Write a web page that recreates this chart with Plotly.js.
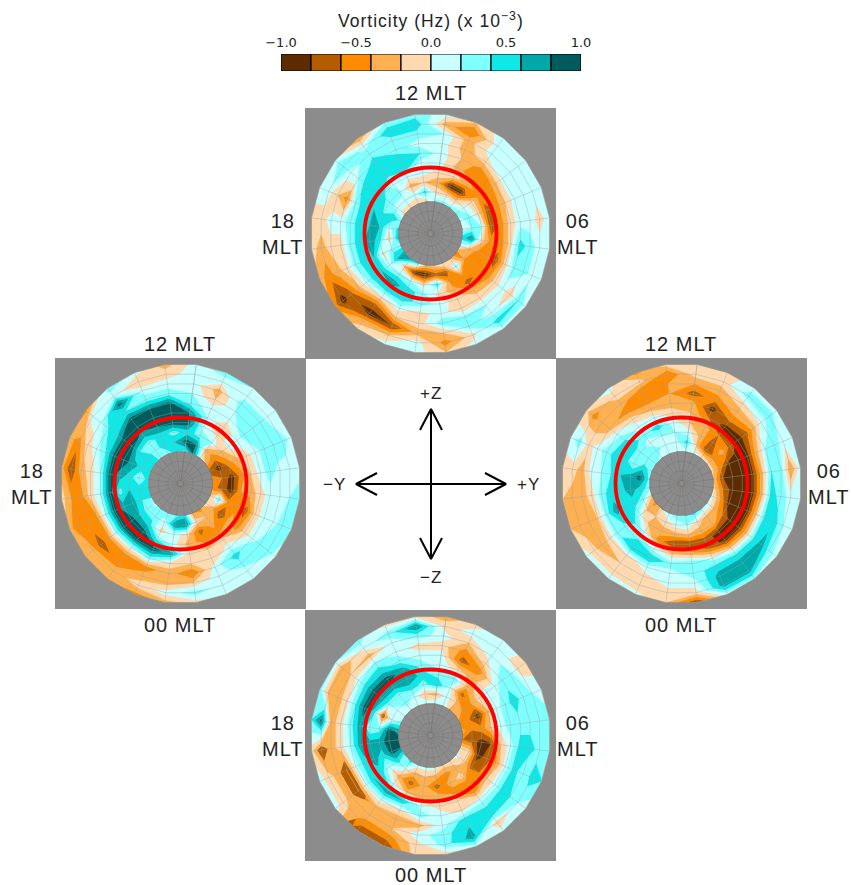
<!DOCTYPE html>
<html><head><meta charset="utf-8">
<script src="https://cdn.plot.ly/plotly-3.0.1.min.js"></script>
<style>html,body{margin:0;padding:0;background:#fff}#g{width:851px;height:885px}
.annotation-text{letter-spacing:1px}</style>
</head><body><div id="g"></div>
<script>
const bandColors=['#5c2c00','#b35c00','#ff8c00','#ffb050','#ffd9b0','#c8ffff','#80ffff','#10e8e8','#00a8a8','#005c5c'];
const bandCentres=[-0.9,-0.7,-0.5,-0.3,-0.1,0.1,0.3,0.5,0.7,0.9];
const cbTicks=[-1,-0.5,0,0.5,1];
const cbLabels=['\u22121.0','\u22120.5','0.0','0.5','1.0'];
const rings=[32,41.8,51.6,61.3,71.1,80.9,90.7,100.4,110.2,120];
const innerRings=[3,12.7,22.3,32];
const spokeAngles=[7.5,22.5,37.5,52.5,67.5,82.5,97.5,112.5,127.5,142.5,157.5,172.5,187.5,202.5,217.5,232.5,247.5,262.5,277.5,292.5,307.5,322.5,337.5,352.5];
const redCircleRadius=66;

const topPanel=[
[.3,-.1,-.3,-.1,.1,.1,.1,.2,-.3,.1],
[.3,-.1,-.95,-.1,-.3,-.2,-.3,-.3,-.6,-.2],
[.3,-.2,-.9,-.3,-.6,-.5,-.1,.1,.1,.1],
[.3,.1,-.1,-.5,-.6,-.3,.1,.1,.1,.1],
[.1,.3,-.1,-.7,-.5,-.2,.1,.1,.1,.1],
[.1,.2,.2,-.8,-.5,-.1,.1,.1,-.1,.1],
[.5,.8,-.1,-.5,-.5,-.1,.5,.3,.1,.1],
[.1,-.3,-.5,-.5,-.7,-.1,.3,.3,.1,.1],
[-.6,-.4,-.5,-.5,-.5,-.1,.1,-.2,.4,.1],
[-.2,.3,-.4,-.7,-.3,-.1,.2,.1,.5,.1],
[.1,-.7,-.5,-.3,-.1,-.2,.3,.3,-.1,.1],
[-.1,-.7,.5,-.1,.1,.1,.3,-.2,-.5,-.2],
[-.2,-.95,-.1,.3,.3,-.1,-.1,-.3,.1,.1],
[.5,-.9,.2,.5,.5,.1,-.2,-.8,-.2,.1],
[.7,-.3,.3,.7,.5,-.1,-.7,-.9,-.3,-.1],
[.7,.6,.1,.6,.5,.1,-.3,-.7,-.9,-.5],
[.3,.3,-.1,.6,.5,.3,-.1,-.3,-.5,-.3],
[.7,-.2,.5,.7,.5,.3,-.1,-.1,-.3,-.1],
[.5,.1,.6,.6,.5,.3,.1,.1,-.1,-.1],
[.3,.6,.4,.6,.5,.3,-.5,-.2,.1,.1],
[-.1,.1,.3,.5,.6,.5,.2,.1,.4,.1],
[-.1,.1,.3,.1,.4,.5,.5,.3,.1,-.4],
[-.2,.1,-.3,.1,.6,.5,.3,.3,.55,.2],
[-.2,.5,-.2,.1,.1,.4,.1,.3,.55,.3]];

const leftPanel=[
[.3,.9,.5,.9,.8,.3,.2,.1,.1,.1],
[.8,.8,.3,.1,.2,.1,-.2,-.3,.1,.3],
[.1,-.3,.2,-.1,-.2,.1,.2,.3,.1,.2],
[-.3,-.5,-.3,.1,.1,.3,.3,.3,.1,.1],
[-.7,-.9,-.5,-.3,-.1,.1,.3,.4,.3,.1],
[-.5,-.6,-.9,-.5,-.2,.1,.3,.1,.1,.1],
[-.5,-.7,-.9,-.4,-.3,-.1,.1,.1,.2,.3],
[-.2,.4,-.5,-.5,-.7,-.1,.1,.1,.3,.3],
[.1,-.4,-.8,-.3,-.5,-.1,.1,.3,.3,.1],
[-.5,-.2,-.3,-.5,-.1,.1,.5,.3,.1,.1],
[-.4,-.1,-.7,-.5,-.2,-.2,.1,.1,.1,.1],
[.5,.8,-.1,-.3,-.1,-.2,-.6,-.2,.3,-.1],
[.3,.8,.1,.1,.7,-.1,-.3,-.3,.1,-.3],
[.3,.1,-.1,.4,.9,.3,-.5,-.3,-.1,-.5],
[.3,.3,.5,.9,.9,.1,-.5,-.5,-.3,-.3],
[.1,.3,.6,.9,.9,.2,-.5,-.7,-.3,-.3],
[.5,.4,.7,.7,.9,.2,-.5,-.5,-.6,-.3],
[.5,.5,.6,.3,.9,.2,-.1,-.5,-.4,-.1],
[.5,.2,.5,.7,.9,.2,-.1,-.3,-.8,-.3],
[.5,.5,.7,.9,.9,.4,.1,-.1,-.5,-.3],
[.6,.5,.4,.9,.9,.5,.4,.1,.1,-.5],
[.3,.3,.3,.7,.9,.9,.4,.9,.1,.3],
[.3,.5,.5,.8,.9,.8,.3,.1,-.2,.1],
[.5,.6,.3,.9,.9,.85,.3,.1,-.1,-.3]];

const rightPanel=[
[.1,.5,.1,-.2,-.2,-.3,-.7,-.4,-.1,-.1],
[.1,-.3,-.3,-.3,-.6,-.9,-.5,-.3,-.1,-.1],
[.1,-.8,-.7,-.6,-.9,-.5,-.3,-.1,.3,.1],
[-.1,-.5,-.3,-.7,-.9,-.7,-.3,.1,.3,.1],
[-.1,-.5,-.9,-.9,-.9,-.3,.2,.3,.1,.1],
[-.2,-.8,-.9,-.9,-.9,-.3,.4,.3,-.4,.1],
[-.1,-.6,-.9,-.9,-.9,-.3,.5,.3,.1,.2],
[.1,-.4,-.9,-.9,-.9,-.2,.5,.5,.2,.1],
[.2,-.3,-.6,-.9,-.9,-.3,.4,.7,.3,.1],
[.3,-.3,-.3,-.9,-.9,-.2,.5,.7,.7,.2],
[.5,-.1,-.3,-.7,-.6,.1,.5,.7,.7,.1],
[.4,.2,-.2,-.8,-.3,.4,.3,.1,-.1,-.8],
[.3,.1,-.3,-.8,-.2,.3,.1,.1,-.1,-.2],
[.2,-.1,-.3,-.5,.1,.6,.1,-.1,-.2,.1],
[-.1,-.2,-.3,.1,.4,.6,-.1,-.2,-.1,.1],
[-.5,-.3,.1,.5,.3,.3,-.1,-.4,-.1,.1],
[-.2,.3,.5,.5,.7,.3,-.2,-.3,-.3,-.2],
[.3,.5,.7,.5,.5,.3,-.1,-.3,-.3,-.2],
[.3,.9,.7,.6,.4,.2,.1,-.3,-.1,-.1],
[.3,.5,.2,.5,.5,.3,.1,-.1,.3,.1],
[.3,.2,.3,.5,.4,.1,-.3,-.3,-.5,-.1],
[.1,.3,.1,.3,.1,-.1,-.5,-.3,-.1,.1],
[.1,.1,.2,.5,.1,-.3,-.5,-.6,-.1,-.5],
[.1,.1,.2,.1,-.1,-.3,-.4,-.4,-.6,-.1]];

const bottomPanel=[
[.2,-.3,.6,.3,.1,.1,-.1,.1,-.1,-.3],
[.2,.1,.1,.4,-.1,-.7,-.5,-.2,.1,-.1],
[-.3,-.2,-.7,-.3,-.3,-.5,-.1,.1,.1,.2],
[-.2,-.5,-.4,-.1,.1,.1,.3,.3,-.1,-.1],
[-.5,-.6,-.9,-.3,.1,.3,.5,.3,.2,.1],
[-.3,-.6,-.5,-.2,.1,.3,.3,.3,.3,.3],
[-.6,-.7,-.9,-.8,-.2,.1,.5,.5,.3,.3],
[-.1,-.1,-.9,-.7,-.4,.1,.5,.2,.5,.4],
[.1,-.1,-.7,-.6,-.2,.1,.5,.4,.2,.1],
[-.1,-.3,-.1,-.6,-.5,.1,.4,.5,-.2,.1],
[-.1,-.5,-.3,-.5,-.1,-.1,.5,.6,.7,.1],
[.1,-.3,-.7,-.3,-.1,.1,.1,.3,.3,-.1],
[.1,-.2,-.3,-.4,.1,.3,-.3,.1,-.1,-.1],
[.1,-.3,-.7,-.3,.6,-.1,-.3,-.2,-.5,-.8],
[.5,.1,-.3,.1,.7,.1,-.3,-.3,-.5,-.8],
[.3,.5,.1,.5,.6,.1,-.62,-.3,-.1,.1],
[.8,.9,.5,.7,.5,.1,-.62,-.3,-.1,.1],
[.9,.9,.7,.7,.7,.2,-.1,-.3,-.6,-.1],
[.7,.9,.3,.2,.7,.3,-.1,-.3,.9,.4],
[.3,.1,-.6,.5,.9,.4,-.1,-.3,-.3,.3],
[.1,.1,.3,.7,.9,.5,.1,-.2,-.4,.2],
[.1,.3,.3,.7,.9,.5,.3,-.3,.1,.3],
[.1,.1,.5,.8,.7,.3,.1,.1,.3,-.1],
[.1,-.2,.3,.5,.3,.1,-.1,.3,.8,-.1]];

const panelValues=[topPanel,leftPanel,rightPanel,bottomPanel];
const panelLeft=[305,55,556,305];
const panelTop=[108,358,358,610];
const panelSize=251;
const panelGray='#8c8c8c';
const mltLabels=[
 ['12 MLT',430.5,93],['18<br>MLT',283,234],['06<br>MLT',578,234],
 ['12 MLT',180,344],['00 MLT',180,625],['18<br>MLT',32,484],
 ['12 MLT',681,344],['00 MLT',681,625],['06<br>MLT',829,484],
 ['00 MLT',430.5,875],['18<br>MLT',283,736],['06<br>MLT',578,736]];
const dirLabels=[['+Z',431,393],['\u2212Z',431,577],['\u2212Y',334,484],['+Y',528,484]];
const arrowLength=75, headBack=21, headSide=11;
const levelNudge=0.004; // keeps read values off the exact contour levels

const W=851,H=885;
const px=v=>v/W, py=v=>1-v/H;
const deg=Math.PI/180;
const half=panelSize/2;
const traces=[], shapes=[], annotations=[];
const labelFont={family:'Liberation Sans',color:'#222'};
const layout={width:W,height:H,margin:{l:0,r:0,t:0,b:0},paper_bgcolor:'#fff',plot_bgcolor:'rgba(0,0,0,0)',showlegend:false,
  font:{family:'Liberation Sans',color:'#000'}};
const hidden=(dom)=>({domain:dom,range:[-half,half],visible:false,fixedrange:true});
const scale=bandColors.map((c,i)=>[i/(bandColors.length-1),c]);
const gridAxis=(w,c,seam)=>({showticklabels:'none',smoothing:0,gridcolor:c,gridwidth:w,linecolor:c,linewidth:w,
   minorgridcount:0,startline:seam,endline:seam,startlinecolor:c,endlinecolor:c,startlinewidth:w,endlinewidth:w,tickmode:'array',arraydtick:1});

const wrapAngles=spokeAngles.concat([spokeAngles[0]+360]);
function polarMesh(radii){
  return {
    x:wrapAngles.map(t=>radii.map(r=>r*Math.sin(t*deg))),
    y:wrapAngles.map(t=>radii.map(r=>r*Math.cos(t*deg)))
  };
}
panelValues.forEach((vals,i)=>{
  const n=i+1, xa='x'+n, ya='y'+n;
  const dx=[px(panelLeft[i]),px(panelLeft[i]+panelSize)];
  const dy=[py(panelTop[i]+panelSize),py(panelTop[i])];
  layout['xaxis'+n]=Object.assign(hidden(dx),{anchor:ya});
  layout['yaxis'+n]=Object.assign(hidden(dy),{anchor:xa});
  shapes.push({type:'rect',layer:'below',xref:'paper',yref:'paper',x0:dx[0],x1:dx[1],y0:dy[0],y1:dy[1],fillcolor:panelGray,line:{width:0}});
  const m=polarMesh(rings), inner=polarMesh(innerRings);
  const meshCol='rgba(150,165,170,0.7)', discCol='rgba(110,105,100,0.6)';
  traces.push({type:'carpet',carpet:'c'+n,a:rings,b:wrapAngles,x:m.x,y:m.y,xaxis:xa,yaxis:ya,
     aaxis:gridAxis(0.6,meshCol,true),baxis:gridAxis(0.6,meshCol,false),hoverinfo:'skip'});
  const z=vals.concat([vals[0]]).map(s=>s.map(v=>v+levelNudge));
  traces.push({type:'contourcarpet',carpet:'c'+n,a:rings,b:wrapAngles,z:z,xaxis:xa,yaxis:ya,
     autocontour:false,contours:{start:-0.8,end:0.8,size:0.2,coloring:'fill',showlines:false},
     line:{width:0,smoothing:0},colorscale:scale,showscale:false,hoverinfo:'skip'});
  traces.push({type:'carpet',carpet:'d'+n,a:innerRings,b:wrapAngles,x:inner.x,y:inner.y,xaxis:xa,yaxis:ya,
     aaxis:gridAxis(0.5,discCol,true),baxis:gridAxis(0.5,discCol,false),hoverinfo:'skip'});
  shapes.push({type:'circle',xref:xa,yref:ya,x0:-redCircleRadius,x1:redCircleRadius,y0:-redCircleRadius,y1:redCircleRadius,line:{color:'#ff0000',width:3.8}});
});

layout.xaxis5=Object.assign(hidden([px(305.5),px(556.5)]),{anchor:'y5'});
layout.yaxis5=Object.assign(hidden([py(609.5),py(358.5)]),{anchor:'x5'});
const L=arrowLength,B=L-headBack,S=headSide;
traces.push({type:'scatter',mode:'lines',xaxis:'x5',yaxis:'y5',line:{color:'#000',width:2},hoverinfo:'skip',
  x:[-L,L,null,B,L,B,null,-B,-L,-B,null,0,0,null,-S,0,S,null,-S,0,S],
  y:[0,0,null,S,0,-S,null,S,0,-S,null,-L,L,null,B,L,B,null,-B,-L,-B]});

layout.xaxis6={domain:[px(281),px(581)],range:[-1,1],anchor:'y6',side:'top',tickvals:cbTicks,ticktext:cbLabels,ticks:'',showgrid:false,zeroline:false,showline:false,
   tickfont:{size:13,family:'DejaVu Sans',color:'#222'},fixedrange:true,ticklabelstandoff:3};
layout.yaxis6={domain:[py(71),py(54)],range:[0,1],anchor:'x6',visible:false,fixedrange:true};
traces.push({type:'bar',xaxis:'x6',yaxis:'y6',x:bandCentres,y:bandCentres.map(()=>1),width:bandCentres.map(()=>0.2),
   marker:{color:bandColors,line:{color:'#000',width:1.2}},hoverinfo:'skip'});
annotations.push({xref:'paper',yref:'paper',x:px(431),y:py(20),text:'Vorticity (Hz) (x 10<sup>\u22123</sup>)',showarrow:false,font:Object.assign({size:17.5},labelFont),xanchor:'center',yanchor:'middle'});

mltLabels.forEach(l=>annotations.push({xref:'paper',yref:'paper',x:px(l[1]),y:py(l[2]),text:l[0],showarrow:false,font:Object.assign({size:20},labelFont),xanchor:'center',yanchor:'middle'}));
dirLabels.forEach(l=>annotations.push({xref:'paper',yref:'paper',x:px(l[1]),y:py(l[2]),text:l[0],showarrow:false,font:Object.assign({size:17},labelFont),xanchor:'center',yanchor:'middle'}));

layout.shapes=shapes; layout.annotations=annotations; layout.bargap=0;
Plotly.newPlot('g',traces,layout,{displayModeBar:false,staticPlot:true});
</script></body></html>
